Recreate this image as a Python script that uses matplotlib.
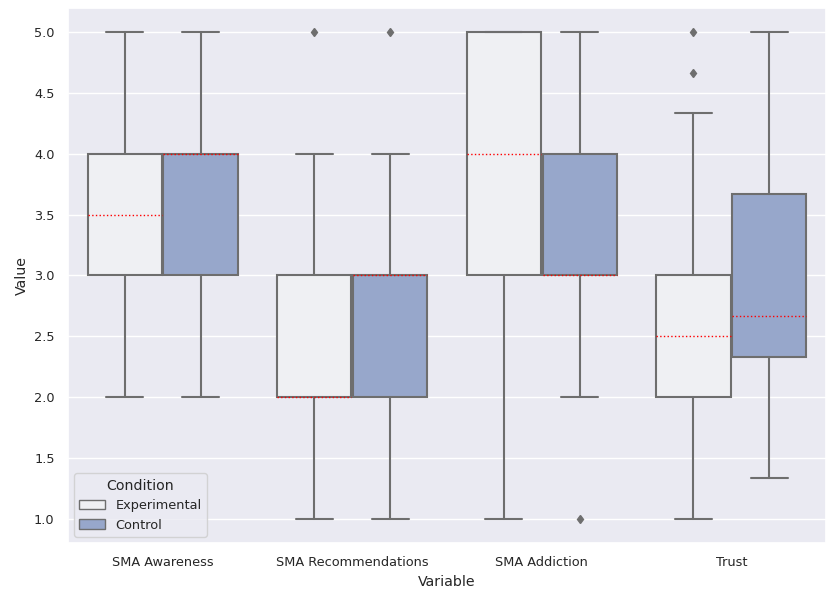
import matplotlib

matplotlib.use("Agg")
import matplotlib.pyplot as plt
import seaborn as sns
from matplotlib.patches import Patch

sns.set_theme(style="darkgrid")
plt.rcParams["font.family"] = ["DejaVu Sans"]

variables = ["SMA Awareness", "SMA Recommendations", "SMA Addiction", "Trust"]
conditions = ["Experimental", "Control"]

# five-number summaries, one list per condition
exp_whislo = [2.0, 1.0, 1.0, 1.0]
exp_q1 = [3.0, 2.0, 3.0, 2.0]
exp_med = [3.5, 2.0, 4.0, 2.5]
exp_q3 = [4.0, 3.0, 5.0, 3.0]
exp_whishi = [5.0, 4.0, 5.0, 4.333]
exp_fliers = [[], [5.0], [], [4.667, 5.0]]

ctl_whislo = [2.0, 1.0, 2.0, 1.333]
ctl_q1 = [3.0, 2.0, 3.0, 2.333]
ctl_med = [4.0, 3.0, 3.0, 2.667]
ctl_q3 = [4.0, 3.0, 4.0, 3.667]
ctl_whishi = [5.0, 4.0, 5.0, 5.0]
ctl_fliers = [[], [5.0], [1.0], []]

COLORS = {"Experimental": "#eff0f3", "Control": "#97a7cb"}
LINE = "#6e6e6e"


def _stats(lo, q1, med, q3, hi, fl):
    return [
        {"whislo": a, "q1": b, "med": c, "q3": d, "whishi": e, "fliers": f}
        for a, b, c, d, e, f in zip(lo, q1, med, q3, hi, fl)
    ]


series = {
    "Experimental": _stats(exp_whislo, exp_q1, exp_med, exp_q3, exp_whishi, exp_fliers),
    "Control": _stats(ctl_whislo, ctl_q1, ctl_med, ctl_q3, ctl_whishi, ctl_fliers),
}

fig, ax = plt.subplots(figsize=(8.27, 5.91), dpi=100)
fig.subplots_adjust(left=0.082, right=0.999, top=0.987, bottom=0.081)

width = 0.392
offsets = {"Experimental": -0.2, "Control": 0.2}
for cond in conditions:
    pos = [i + offsets[cond] for i in range(len(variables))]
    ax.bxp(
        series[cond],
        positions=pos,
        widths=width,
        patch_artist=True,
        manage_ticks=False,
        boxprops=dict(facecolor=COLORS[cond], edgecolor=LINE, linewidth=1.5),
        whiskerprops=dict(color=LINE, linewidth=1.5),
        capprops=dict(color=LINE, linewidth=1.5),
        medianprops=dict(color="red", linestyle=":", linewidth=1.0),
        flierprops=dict(marker="d", markerfacecolor=LINE, markeredgecolor=LINE,
                        markersize=4.5, linestyle="none"),
    )

ax.set_xlim(-0.5, len(variables) - 0.5)
ax.set_ylim(0.8, 5.2)
ax.set_xticks(range(len(variables)))
ax.set_xticklabels(variables)
ax.xaxis.grid(False)
ax.set_yticks([1.0, 1.5, 2.0, 2.5, 3.0, 3.5, 4.0, 4.5, 5.0])
ax.tick_params(labelsize=9.3)
ax.set_xlabel("Variable", fontsize=10.2)
ax.set_ylabel("Value", fontsize=10.2)

handles = [Patch(facecolor=COLORS[c], edgecolor=LINE, label=c) for c in conditions]
ax.legend(handles=handles, title="Condition", loc="lower left", fontsize=9.3,
          title_fontsize=10.2)

fig.savefig("out.png", dpi=100)
